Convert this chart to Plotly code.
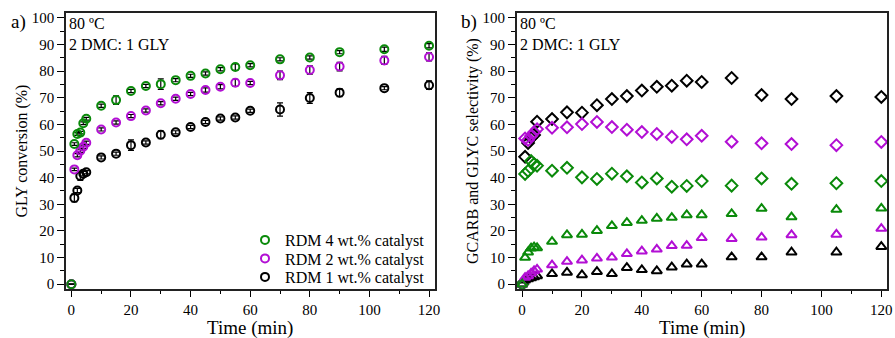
import plotly.graph_objects as go

time = [0, 1, 2, 3, 4, 5, 10, 15, 20, 25, 30, 35, 40, 45, 50, 55, 60, 70, 80, 90, 105, 120]

# Panel a) GLY conversion (%)
conv_4 = [0, 52.6, 56.4, 56.9, 60.4, 62.1, 67.0, 69.1, 72.5, 74.4, 75.1, 76.6, 78.2, 79.1, 80.7, 81.5, 82.2, 84.4, 85.1, 87.1, 88.2, 89.5]
conv_4_err = [0, 0.5, 0.5, 0.5, 0.5, 0.5, 0.6, 1.6, 0.6, 0.6, 2.0, 0.6, 0.6, 0.6, 0.6, 1.2, 0.6, 0.6, 0.6, 0.6, 0.8, 0.8]
conv_2 = [0, 43.1, 48.4, 50.1, 51.6, 53.1, 58.1, 60.7, 63.1, 65.2, 67.9, 69.6, 71.4, 72.9, 74.1, 75.6, 75.5, 78.4, 80.4, 81.7, 84.0, 85.3]
conv_2_err = [0, 0.5, 0.6, 0.6, 0.6, 0.6, 0.6, 0.6, 0.6, 0.6, 0.6, 0.6, 0.6, 0.8, 0.8, 1.3, 0.6, 1.6, 1.6, 1.6, 1.5, 1.5]
conv_1 = [0, 32.4, 35.2, 40.6, 41.5, 42.0, 47.6, 49.0, 52.2, 53.2, 56.1, 57.0, 59.0, 60.9, 62.2, 62.6, 65.1, 65.6, 69.9, 71.9, 73.6, 74.7]
conv_1_err = [0, 1.5, 0.8, 1.6, 0.8, 0.6, 0.6, 0.6, 2.0, 0.6, 1.5, 0.6, 0.6, 0.6, 0.6, 0.6, 0.6, 2.5, 2.0, 1.5, 0.6, 1.6]

# Panel b) selectivity (%): diamonds = GCARB, triangles = GLYC
gcarb_4 = [0, 41.4, 42.5, 46.2, 45.1, 44.5, 42.6, 43.7, 40.1, 39.5, 41.5, 40.5, 38.2, 39.7, 36.6, 36.9, 38.7, 37.0, 39.7, 37.7, 37.9, 38.7]
gcarb_2 = [0, 54.7, 54.1, 55.6, 57.0, 58.2, 58.7, 58.9, 60.1, 60.9, 59.0, 58.0, 57.1, 56.4, 55.3, 54.4, 55.7, 53.5, 52.9, 52.6, 52.2, 53.4]
gcarb_1 = [0, 47.8, 53.0, 55.0, 56.0, 61.0, 62.0, 64.5, 64.4, 67.2, 69.5, 70.6, 72.7, 74.1, 74.5, 76.4, 75.9, 77.4, 71.0, 69.5, 70.6, 70.3]
glyc_4 = [0, 10.0, 12.0, 13.5, 13.9, 13.6, 16.0, 18.5, 18.7, 20.1, 21.9, 23.1, 23.9, 24.7, 25.0, 26.0, 26.0, 26.4, 28.4, 25.2, 28.0, 28.5]
glyc_2 = [0, 2.5, 3.1, 4.1, 5.0, 5.6, 7.2, 8.5, 9.0, 9.7, 10.1, 11.4, 12.4, 13.1, 14.4, 14.5, 17.4, 17.1, 17.6, 18.5, 18.7, 20.9]
glyc_1 = [0, 1.5, 2.0, 2.3, 2.7, 3.1, 3.9, 4.4, 3.5, 4.7, 3.9, 6.2, 5.4, 5.0, 6.4, 7.5, 7.5, 10.2, 10.2, 12.0, 12.0, 14.1]

labels = ["RDM 4 wt.% catalyst", "RDM 2 wt.% catalyst", "RDM 1 wt.% catalyst"]
x_ticks = [0, 20, 40, 60, 80, 100, 120]
y_ticks = [0, 10, 20, 30, 40, 50, 60, 70, 80, 90, 100]

GREEN = "#0a8a0a"
PURPLE = "#b20fd4"
BLACK = "#000000"
FONT = "Liberation Serif"
W, H = 895, 338
px = lambda X: X / W
py = lambda Y: 1 - Y / H

fig = go.Figure()

def err(arr):
    return dict(type="data", array=arr, visible=True, color="black", thickness=1.2, width=3)

circ = lambda c: dict(symbol="circle-open", size=8, color=c, line=dict(width=2, color=c))
for y, e, c, name, lg in [(conv_1, conv_1_err, BLACK, labels[2], "legend3"),
                          (conv_2, conv_2_err, PURPLE, labels[1], "legend2"),
                          (conv_4, conv_4_err, GREEN, labels[0], "legend")]:
    fig.add_trace(go.Scatter(x=time, y=y, mode="markers", name=name, marker=circ(c),
                             error_y=err(e), xaxis="x", yaxis="y", legend=lg))

dia = lambda c: dict(symbol="diamond-open", size=9, color=c, line=dict(width=2, color=c))
tri = lambda c: dict(symbol="triangle-up-open", size=9, color=c, line=dict(width=2, color=c))
for y, c in [(gcarb_1, BLACK), (gcarb_2, PURPLE), (gcarb_4, GREEN)]:
    fig.add_trace(go.Scatter(x=time, y=y, mode="markers", marker=dia(c), showlegend=False,
                             xaxis="x2", yaxis="y2"))
for y, c in [(glyc_1, BLACK), (glyc_2, PURPLE), (glyc_4, GREEN)]:
    fig.add_trace(go.Scatter(x=time, y=y, mode="markers", marker=tri(c), showlegend=False,
                             xaxis="x2", yaxis="y2"))

common_x = dict(range=[-1.8, 122], tickvals=x_ticks, ticks="outside", automargin=False,
                ticklen=6, tickwidth=1.3, tickcolor="black", showline=True, linecolor="#222",
                linewidth=1.5, mirror=True, showgrid=False, zeroline=False,
                minor=dict(dtick=10, tick0=0, ticks="outside", ticklen=3, tickwidth=1.3, tickcolor="black"),
                tickfont=dict(family=FONT, size=15, color="black"))
common_y = dict(range=[-1.8, 101.8], tickvals=y_ticks, ticks="outside", automargin=False,
                ticklen=7, tickwidth=1.3, tickcolor="black", showline=True, linecolor="#222",
                linewidth=1.5, mirror=True, showgrid=False, zeroline=False,
                minor=dict(dtick=5, tick0=0, ticks="outside", ticklen=4, tickwidth=1.3, tickcolor="black"),
                tickfont=dict(family=FONT, size=15, color="black"))

ydom = [py(289), py(13)]
leg_common = dict(xanchor="left", yanchor="middle", bgcolor="rgba(0,0,0,0)",
                  font=dict(family=FONT, size=16, color="black"), itemwidth=30)
fig.update_layout(
    width=W, height=H,
    margin=dict(l=0, r=0, t=0, b=0, autoexpand=False),
    plot_bgcolor="white", paper_bgcolor="white",
    font=dict(family=FONT, size=15, color="black"),
    xaxis=dict(domain=[px(66), px(435)], anchor="y", **common_x),
    yaxis=dict(domain=ydom, anchor="x",
               title=dict(text="GLY conversion (%)", font=dict(family=FONT, size=16, color="black"), standoff=0),
               **common_y),
    xaxis2=dict(domain=[px(516.7), px(887.3)], anchor="y2", **common_x),
    yaxis2=dict(domain=ydom, anchor="x2",
                title=dict(text="GCARB and GLYC selectivity (%)", font=dict(family=FONT, size=16, color="black"), standoff=0),
                **common_y),
    legend=dict(x=px(245), y=py(240), **leg_common),
    legend2=dict(x=px(245), y=py(258.5), **leg_common),
    legend3=dict(x=px(245), y=py(277), **leg_common),
    showlegend=True,
)

ann = []
for X, letter in [(9, "a)"), (459, "b)")]:
    ann.append(dict(x=px(X), y=py(22), xref="paper", yref="paper", text=letter, showarrow=False,
                    xanchor="left", yanchor="middle", font=dict(family=FONT, size=19, color="black")))
for xr in ["x domain", "x2 domain"]:
    yr = "y domain" if xr == "x domain" else "y2 domain"
    ann.append(dict(x=0.003, y=1.0, xref=xr, yref=yr, text="80 ºC<br>2 DMC: 1 GLY", showarrow=False,
                    xanchor="left", yanchor="top", align="left",
                    font=dict(family=FONT, size=16, color="black")))
    # x-axis title, placed just below the tick labels
    ann.append(dict(x=0.5, y=py(328), xref=xr, yref="paper", text="Time (min)", showarrow=False,
                    xanchor="center", yanchor="middle",
                    font=dict(family=FONT, size=19, color="black")))
fig.update_layout(annotations=ann)

# remove the browser's default 8 px body margin so the figure fills the window exactly
fig.write_html("out.html", config={"displayModeBar": False},
               post_script="document.body.style.margin='0px';document.body.style.overflow='hidden';")
